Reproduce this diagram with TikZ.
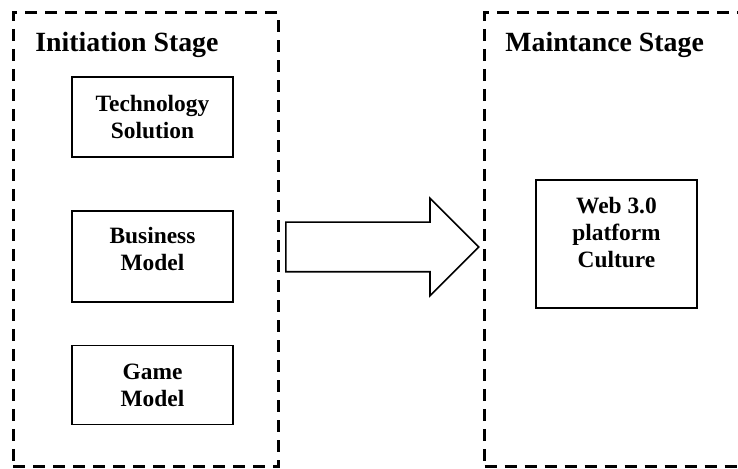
\documentclass[tikz,border=0pt]{standalone}
\usepackage{fontspec}
\setmainfont{Liberation Serif}
\usetikzlibrary{shapes,arrows,positioning}

\begin{document}
\begin{tikzpicture}[
    x=0.5pt, y=-0.5pt,
    stagebox/.style={rectangle, draw, line width=1.5pt, dash pattern=on 6pt off 4pt, minimum width=132.5pt, minimum height=227pt, inner sep=0pt},
    title/.style={anchor=base west, inner sep=0pt, font=\fontsize{13.9}{16}\selectfont\bfseries},
    block/.style={rectangle, draw, line width=0.9pt, minimum width=80.5pt, align=center, inner sep=0pt, font=\fontsize{11.7}{13.5}\selectfont\bfseries},
    bigarrow/.style={single arrow, draw, line width=0.8pt, minimum height=96.5pt, single arrow head extend=12pt, single arrow tip angle=90, inner xsep=0pt, inner ysep=12pt}
]
\clip (0,0) rectangle (738,469);

\node[stagebox] (init) at (145.5,240) {};
\node[stagebox] (maint) at (617,240) {};

\node[title] (inittitle) at (35,52) {Initiation Stage};
\node[title] (mainttitle) at (505,52) {Maintance Stage};

\node[block, minimum height=40pt] (tech) at (152.5,117) {Technology\\Solution};
\node[block, minimum height=45.5pt, text depth=7pt, below=26pt of tech] (business) {Business\\Model};
\node[block, minimum height=39.5pt, below=21pt of business] (game) {Game\\Model};

\node[block, minimum height=64pt, text depth=12pt] (web) at (616.5,244) {Web 3.0\\platform\\Culture};

\node[bigarrow, anchor=tail] (flow) at (285,247) {};

\end{tikzpicture}
\end{document}
